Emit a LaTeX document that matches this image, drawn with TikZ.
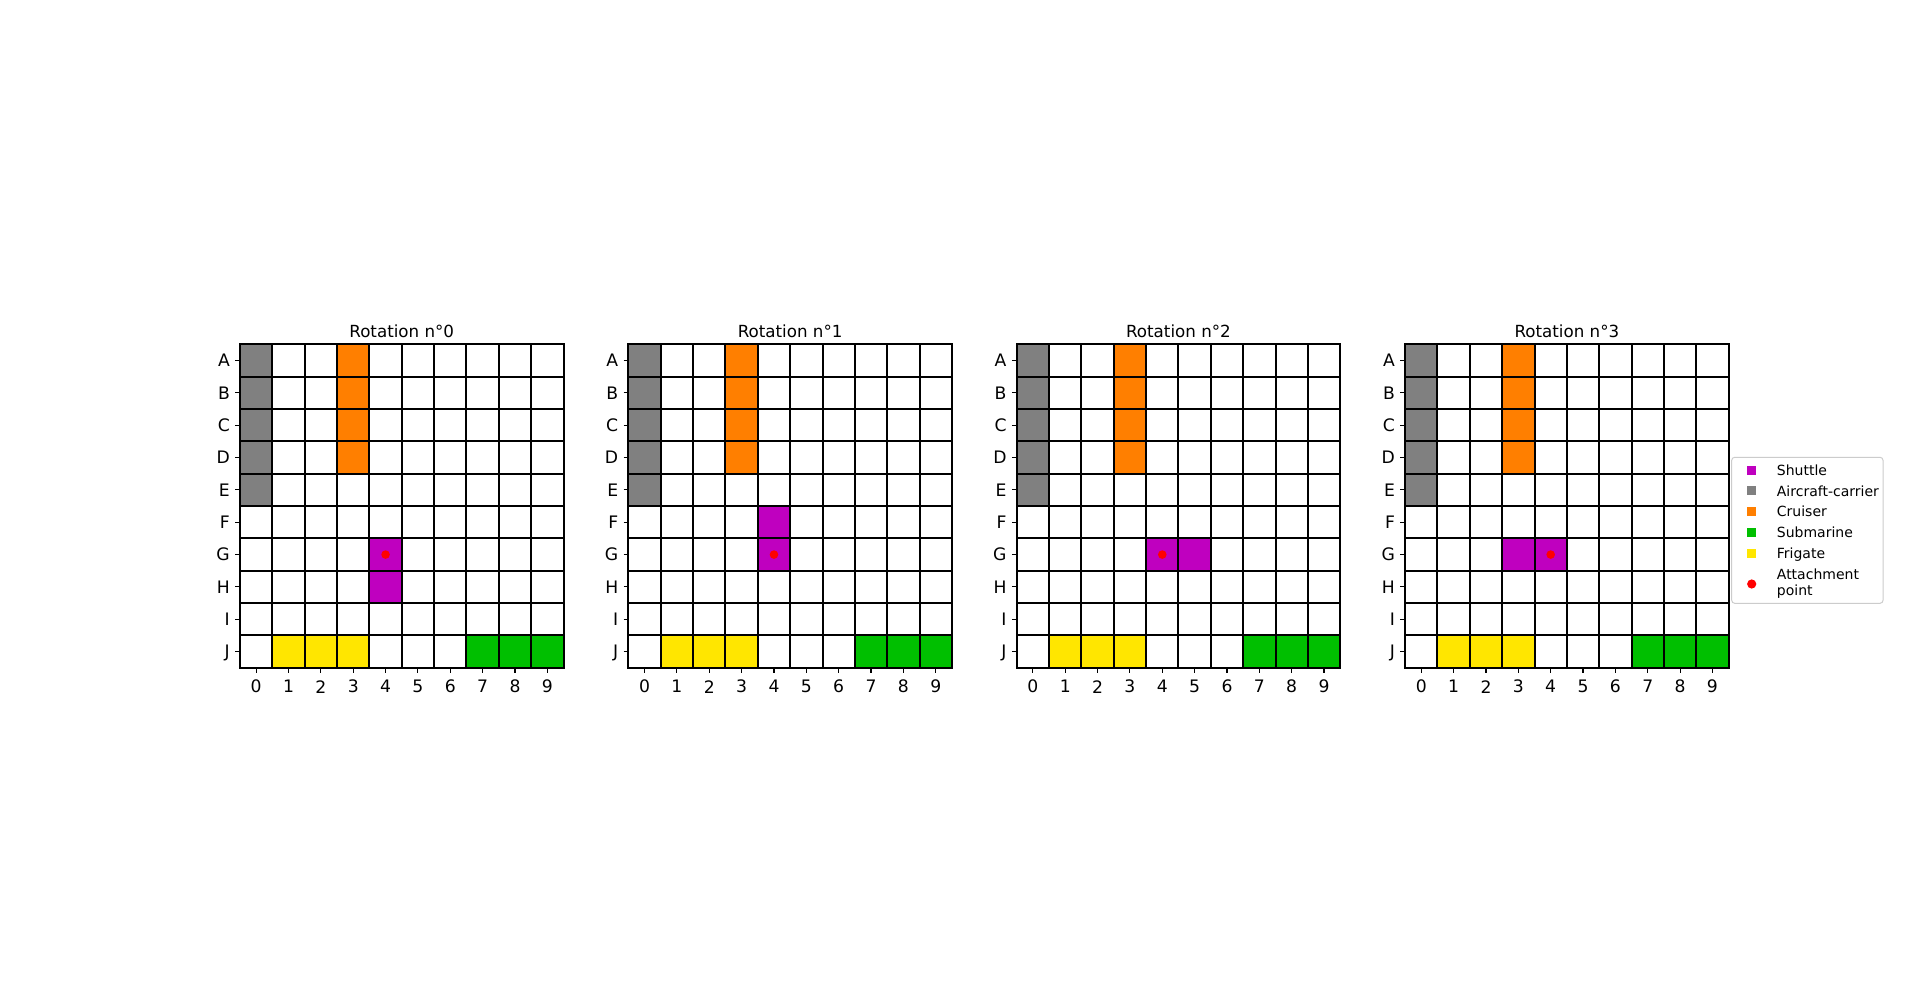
\documentclass[tikz,border=0pt]{standalone}
\usepackage{fontspec}
\setmainfont{DejaVu Sans}
\definecolor{cgray}{HTML}{808080}
\definecolor{corange}{HTML}{FF7F00}
\definecolor{cmag}{HTML}{BF00BF}
\definecolor{cgreen}{HTML}{00BF00}
\definecolor{cyellow}{HTML}{FFE600}
\definecolor{cred}{HTML}{FF0000}
\def\cellsz{32.35}
\tikzset{
  gridline/.style={line width=2pt, black, line cap=rect},
  tickline/.style={line width=1.1pt, black},
  titletext/.style={inner sep=0pt, anchor=base, font=\fontsize{16.7}{20}\selectfont},
  ticktext/.style={inner sep=0pt, font=\fontsize{17.2}{20}\selectfont},
  legtext/.style={inner sep=0pt, anchor=base west, font=\fontsize{14}{17}\selectfont},
}
\newcommand{\boardpanel}[3]{%
\begin{scope}[shift={(#1,344.3)}]
  \fill[white] (0,0) rectangle (10*\cellsz,10*\cellsz);
  \foreach \r in {0,...,4} {\fill[cgray] (0,\r*\cellsz) rectangle ++(\cellsz,\cellsz);}
  \foreach \r in {0,...,3} {\fill[corange] (3*\cellsz,\r*\cellsz) rectangle ++(\cellsz,\cellsz);}
  \foreach \c in {1,2,3} {\fill[cyellow] (\c*\cellsz,9*\cellsz) rectangle ++(\cellsz,\cellsz);}
  \foreach \c in {7,8,9} {\fill[cgreen] (\c*\cellsz,9*\cellsz) rectangle ++(\cellsz,\cellsz);}
  \foreach \r/\c in {#3} {\fill[cmag] (\c*\cellsz,\r*\cellsz) rectangle ++(\cellsz,\cellsz);}
  \foreach \i in {0,...,10} {
    \draw[gridline] (\i*\cellsz,0) -- (\i*\cellsz,10*\cellsz);
    \draw[gridline] (0,\i*\cellsz) -- (10*\cellsz,\i*\cellsz);
  }
  \fill[cred] (4.5*\cellsz,6.5*\cellsz) circle (4.3);
  \node[titletext] (title#2) at (5*\cellsz,-7) {Rotation n°#2};
  \foreach \l [count=\i from 0] in {A,B,C,D,E,F,G,H,I,J} {
    \draw[tickline] (-4.9,\i*\cellsz+0.5*\cellsz) -- (0,\i*\cellsz+0.5*\cellsz);
    \node[ticktext, anchor=base east] (row#2\l) at (-10,\i*\cellsz+0.5*\cellsz+6.3) {\l};
  }
  \foreach \c in {0,...,9} {
    \draw[tickline] (\c*\cellsz+0.5*\cellsz,10*\cellsz) -- (\c*\cellsz+0.5*\cellsz,10*\cellsz+4.9);
    \node[ticktext, anchor=center] (col#2\c) at (\c*\cellsz+0.5*\cellsz,10*\cellsz+18.9) {\c};
  }
\end{scope}}
\begin{document}
\begin{tikzpicture}[x=1pt,y=-1pt]
  \fill[white] (0,0) rectangle (1920,1003);
  \useasboundingbox (0,0) rectangle (1920,1003);
  \boardpanel{240}{0}{6/4,7/4}
  \boardpanel{628.4}{1}{5/4,6/4}
  \boardpanel{1016.7}{2}{6/4,6/5}
  \boardpanel{1405.1}{3}{6/3,6/4}
  % legend
  \draw[draw=black!20, fill=white, line width=1pt, rounded corners=3pt] (1731.7,457.3) rectangle (1883,603.3);
  \fill[cmag]    (1747.2,465.5) rectangle ++(9,9);
  \fill[cgray]   (1747.2,486.2) rectangle ++(9,9);
  \fill[corange] (1747.2,506.8) rectangle ++(9,9);
  \fill[cgreen]  (1747.2,527.5) rectangle ++(9,9);
  \fill[cyellow] (1747.2,548.8) rectangle ++(9,9);
  \fill[cred]    (1751.7,584) circle (4.6);
  \node[legtext] (legA) at (1776.7,475.4) {Shuttle};
  \node[legtext] (legB) at (1776.7,496.1) {Aircraft-carrier};
  \node[legtext] (legC) at (1776.7,516.7) {Cruiser};
  \node[legtext] (legD) at (1776.7,537.4) {Submarine};
  \node[legtext] (legE) at (1776.7,558.6) {Frigate};
  \node[legtext] (legF) at (1776.7,579.2) {Attachment};
  \node[legtext] (legG) at (1776.7,595.6) {point};
\end{tikzpicture}
\end{document}
